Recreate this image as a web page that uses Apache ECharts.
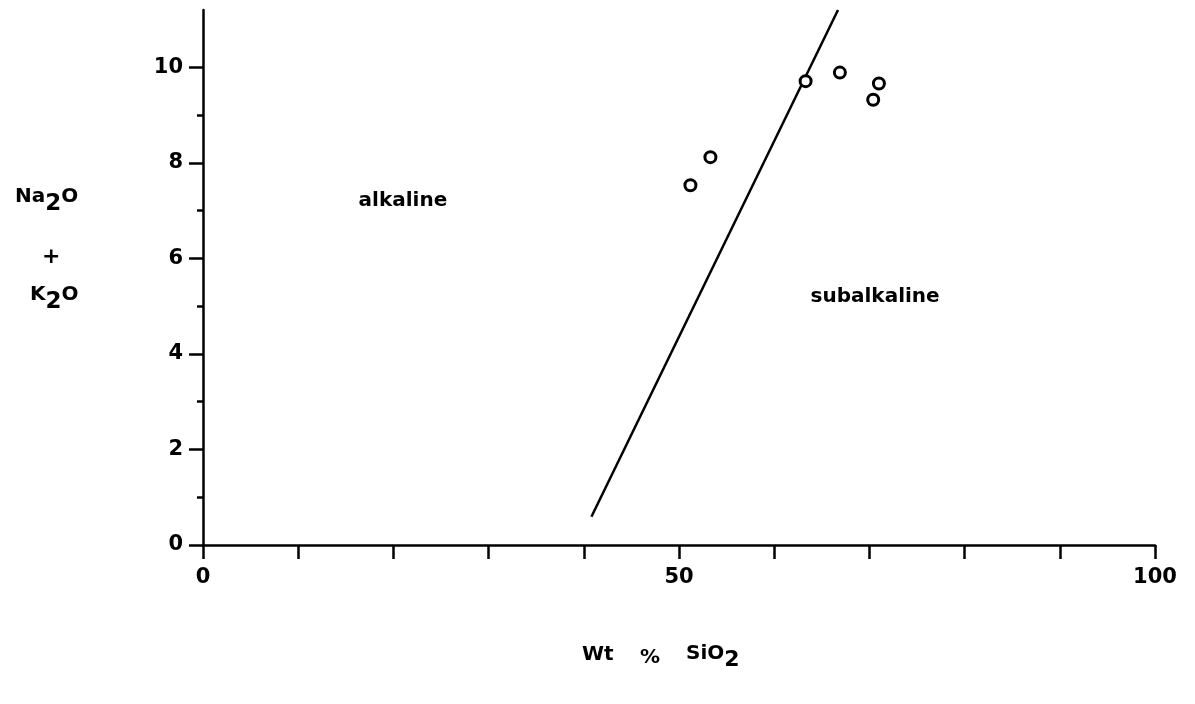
<!DOCTYPE html>
<html>
<head>
<meta charset="utf-8">
<script src="https://cdn.jsdelivr.net/npm/echarts@6/dist/echarts.min.js"></script>
<style>
  html, body { margin: 0; padding: 0; background: #fff; }
  #chart { width: 1195px; height: 704px; }
</style>
</head>
<body>
<div id="chart"></div>
<script>
// samples: [SiO2 wt%, Na2O + K2O]
var samples = [
  [51.2, 7.53],
  [53.3, 8.12],
  [63.3, 9.71],
  [66.9, 9.89],
  [70.4, 9.32],
  [71.0, 9.66]
]
// alkaline / subalkaline dividing line
var divider = [
  [40.8, 0.59],
  [66.7, 11.2]
]
var regionLabels = [
  { name: 'alkaline', value: [21.0, 7.2] },
  { name: 'subalkaline', value: [70.6, 5.19] }
]
var xLabelValues = [0, 50, 100]
var yMajorTicks = [0, 2, 4, 6, 8, 10]
var yMinorTicks = [1, 3, 5, 7, 9]

var font = 'DejaVu Sans'
var black = '#000'

var chart = echarts.init(document.getElementById('chart'))

var option = {
  backgroundColor: '#fff',
  animation: false,
  grid: {
    left: 203,
    right: 40,
    top: 10,
    bottom: 159
  },
  xAxis: {
    type: 'value',
    min: 0,
    max: 100,
    interval: 10,
    splitLine: { show: false },
    axisLine: { lineStyle: { color: black, width: 2.5 } },
    axisTick: { length: 14, lineStyle: { color: black, width: 2.5 } },
    axisLabel: {
      margin: 22,
      color: black,
      fontFamily: font,
      fontWeight: 'bold',
      fontSize: 21,
      formatter: function (v) {
        return xLabelValues.indexOf(v) >= 0 ? String(v) : ''
      }
    }
  },
  yAxis: [
    {
      type: 'value',
      position: 'left',
      min: 0,
      max: 11.2,
      splitLine: { show: false },
      axisLine: { lineStyle: { color: black, width: 2.5 } },
      axisTick: {
        length: 14,
        customValues: yMajorTicks,
        lineStyle: { color: black, width: 2.5 }
      },
      axisLabel: {
        margin: 20,
        color: black,
        fontFamily: font,
        fontWeight: 'bold',
        fontSize: 21,
        customValues: yMajorTicks
      }
    },
    {
      type: 'value',
      position: 'left',
      min: 0,
      max: 11.2,
      splitLine: { show: false },
      axisLine: { show: false },
      axisTick: {
        length: 6,
        customValues: yMinorTicks,
        lineStyle: { color: black, width: 2.5 }
      },
      axisLabel: { show: false }
    }
  ],
  graphic: [
    {
      type: 'text',
      left: 15,
      top: 187,
      style: {
        text: '{a|Na}{s|2}{a|O}',
        rich: {
          a: { fontFamily: font, fontSize: 20, fontWeight: 'bold', fill: black },
          s: { fontFamily: font, fontSize: 23, fontWeight: 'bold', fill: black, padding: [14, 0, 0, 0] }
        }
      }
    },
    {
      type: 'text',
      left: 42,
      top: 246,
      style: { text: '+', fontFamily: font, fontSize: 22, fontWeight: 'bold', fill: black }
    },
    {
      type: 'text',
      left: 30,
      top: 285,
      style: {
        text: '{a|K}{s|2}{a|O}',
        rich: {
          a: { fontFamily: font, fontSize: 20, fontWeight: 'bold', fill: black },
          s: { fontFamily: font, fontSize: 23, fontWeight: 'bold', fill: black, padding: [14, 0, 0, 0] }
        }
      }
    },
    {
      type: 'text',
      left: 582,
      top: 645,
      style: { text: 'Wt', fontFamily: font, fontSize: 20, fontWeight: 'bold', fill: black }
    },
    {
      type: 'text',
      left: 640,
      top: 648,
      style: { text: '%', fontFamily: font, fontSize: 20, fontWeight: 'bold', fill: black }
    },
    {
      type: 'text',
      left: 686,
      top: 644,
      style: {
        text: '{a|SiO}{s|2}',
        rich: {
          a: { fontFamily: font, fontSize: 20, fontWeight: 'bold', fill: black },
          s: { fontFamily: font, fontSize: 22, fontWeight: 'bold', fill: black, padding: [12, 0, 0, 0] }
        }
      }
    }
  ],
  series: [
    {
      type: 'line',
      data: divider,
      symbol: 'none',
      lineStyle: { color: black, width: 2.5 },
      z: 2
    },
    {
      type: 'scatter',
      data: samples,
      symbol: 'circle',
      symbolSize: 11,
      itemStyle: { color: '#fff', borderColor: black, borderWidth: 3, opacity: 1 },
      z: 3
    },
    {
      type: 'scatter',
      data: regionLabels,
      symbolSize: 0,
      itemStyle: { opacity: 1 },
      label: {
        show: true,
        position: 'inside',
        formatter: '{b}',
        color: black,
        opacity: 1,
        fontFamily: font,
        fontWeight: 'bold',
        fontSize: 20
      }
    }
  ]
}

chart.setOption(option)
</script>
</body>
</html>
